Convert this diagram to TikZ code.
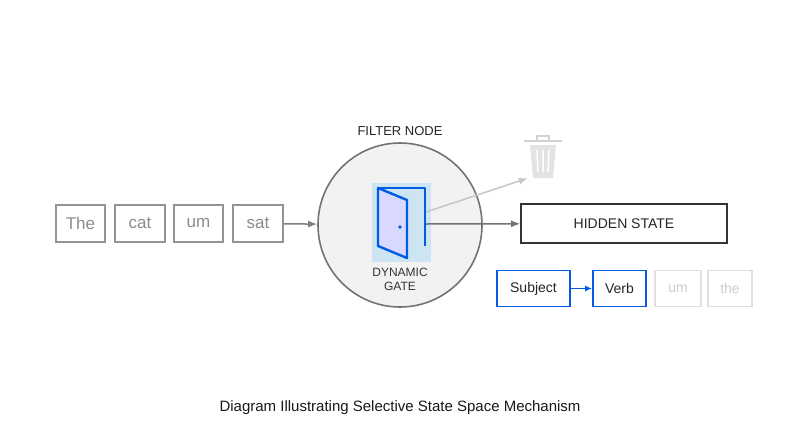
\documentclass[tikz,border=0pt]{standalone}
\usepackage{fontspec}
\setmainfont{Liberation Sans}
\usetikzlibrary{arrows.meta}
\begin{document}
\begin{tikzpicture}[x=1pt,y=-1pt,
 tok/.style={draw=gray!80!black!70,line width=1.6pt,text=gray!90,font=\fontsize{17}{17}\selectfont,minimum height=37pt,inner sep=0pt},
 fade/.style={draw=gray!25,line width=1.4pt,text=gray!40,font=\fontsize{14}{14}\selectfont,minimum height=36pt,inner sep=0pt},
 sel/.style={draw=blue!60!cyan!90!black,line width=1.6pt,text=black!85,font=\fontsize{14}{14}\selectfont,minimum height=36pt,inner sep=0pt},
 arr/.style={-{Latex[length=9pt,width=7pt]},line width=1.5pt}]
\useasboundingbox (0,0) rectangle (800,447);
\fill[white] (0,0) rectangle (800,447);
\node[tok,minimum width=49pt] (t1) at (80.5,223.5) {The};
\node[tok,minimum width=50pt] (t2) at (140,223.5) {cat};
\node[tok,minimum width=49pt] (t3) at (198.5,223.5) {um};
\node[tok,minimum width=50pt] (t4) at (258,223.5) {sat};
\node[circle,draw=gray!90!black,line width=1.6pt,fill=gray!10,minimum size=164pt] (c) at (400,225) {};
\node[font=\fontsize{13}{13}\selectfont,text=black!85] (fn) at (400,131) {FILTER NODE};
\node[font=\fontsize{12}{14}\selectfont,align=center,text=black!80] (dg) at (400,279) {DYNAMIC\\GATE};
% door glow
\fill[blue!40!cyan,opacity=0.15] (372,183) rectangle (431,262);
\draw[blue!60!cyan!90!black,line width=2.4pt,line join=round] (378,246) -- (378,188) -- (425,188) -- (425,246);
\draw[blue!60!cyan!90!black,line width=2.4pt,line join=round,fill=blue!15!white] (378,188) -- (407,200) -- (407,258) -- (378,246) -- cycle;
\fill[blue!60!cyan!90!black] (400,227) circle (1.8pt);
\coordinate (dr) at (426,224);
\coordinate (du) at (426,212);
% trash
\node[inner sep=0pt,minimum width=30pt,minimum height=40pt] (trash) at (543,158) {};
\begin{scope}[gray!35,line width=1.5pt]
\fill[gray!22] (530,145) -- (556,145) -- (553,178) -- (533,178) -- cycle;
\draw[line width=2.5pt] (524,141) -- (562,141);
\draw (537,141) -- (537,136) -- (549,136) -- (549,141);
\draw[white,line width=1.5pt] (537,150) -- (538,172) (543,150) -- (543,172) (549,150) -- (548,172);
\end{scope}
\node[draw=black!80,line width=1.6pt,minimum width=206pt,minimum height=39pt,font=\fontsize{14}{14}\selectfont,text=black!85] (hs) at (624,223.5) {HIDDEN STATE};
\node[sel,minimum width=73pt] (s) at (533.5,288.5) {Subject};
\node[sel,minimum width=53pt] (v) at (619.5,288.5) {Verb};
\node[fade,minimum width=46pt] (u) at (678,288.5) {um};
\node[fade,minimum width=44pt] (th) at (730,288.5) {the};
\draw[arr,gray] (t4) -- (c);
\draw[arr,gray!90!black] (dr) -- (hs);
\draw[arr,gray!45] (du) -- (trash.south west);
\draw[-{Latex[length=7pt,width=6pt]},line width=1.5pt,blue!60!cyan!90!black] (s) -- (v);
\node[font=\fontsize{15}{15}\selectfont,text=black!90] (cap) at (400,408) {Diagram Illustrating Selective State Space Mechanism};
\end{tikzpicture}
\end{document}
